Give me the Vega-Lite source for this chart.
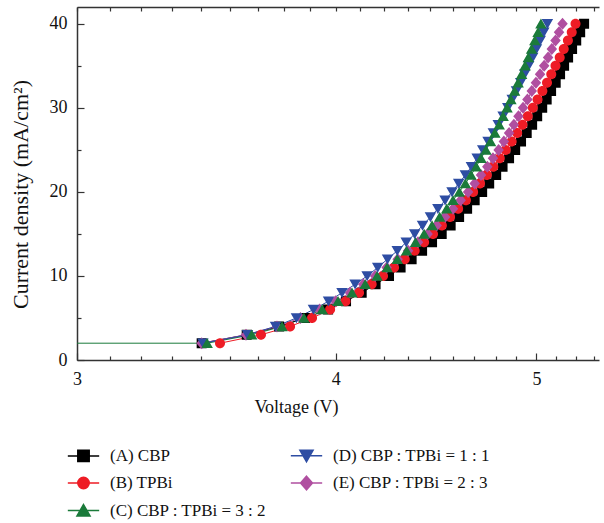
{
  "$schema": "https://vega.github.io/schema/vega-lite/v6.json",
  "width": 522,
  "height": 353,
  "autosize": {"type": "none"},
  "padding": {"left": 77, "top": 7, "right": 5, "bottom": 163},
  "background": "white",
  "config": {
    "view": {"stroke": null},
    "font": "Liberation Serif",
    "legend": {
      "labelFont": "Liberation Serif",
      "labelFontSize": 17,
      "labelColor": "#111111",
      "symbolStrokeWidth": 1.5
    }
  },
  "data": {
    "values": [
      {"J": 2, "C": 2.9},
      {"J": 2, "A": 3.446, "B": 3.517, "C": 3.467, "D": 3.451, "E": 3.446},
      {"J": 3, "A": 3.623, "B": 3.681, "C": 3.643, "D": 3.626, "E": 3.620},
      {"J": 4, "A": 3.756, "B": 3.802, "C": 3.768, "D": 3.741, "E": 3.747},
      {"J": 5, "A": 3.866, "B": 3.896, "C": 3.861, "D": 3.829, "E": 3.846},
      {"J": 6, "A": 3.966, "B": 3.975, "C": 3.940, "D": 3.902, "E": 3.929},
      {"J": 7, "A": 4.046, "B": 4.044, "C": 4.010, "D": 3.968, "E": 3.999},
      {"J": 8, "A": 4.117, "B": 4.105, "C": 4.073, "D": 4.028, "E": 4.064},
      {"J": 9, "A": 4.181, "B": 4.163, "C": 4.133, "D": 4.087, "E": 4.124},
      {"J": 10, "A": 4.244, "B": 4.216, "C": 4.188, "D": 4.142, "E": 4.179},
      {"J": 11, "A": 4.299, "B": 4.268, "C": 4.235, "D": 4.191, "E": 4.233},
      {"J": 12, "A": 4.352, "B": 4.319, "C": 4.283, "D": 4.237, "E": 4.285},
      {"J": 13, "A": 4.403, "B": 4.367, "C": 4.328, "D": 4.283, "E": 4.335},
      {"J": 14, "A": 4.452, "B": 4.413, "C": 4.371, "D": 4.326, "E": 4.383},
      {"J": 15, "A": 4.500, "B": 4.457, "C": 4.413, "D": 4.367, "E": 4.430},
      {"J": 16, "A": 4.545, "B": 4.501, "C": 4.452, "D": 4.405, "E": 4.475},
      {"J": 17, "A": 4.588, "B": 4.542, "C": 4.490, "D": 4.444, "E": 4.517},
      {"J": 18, "A": 4.629, "B": 4.583, "C": 4.525, "D": 4.481, "E": 4.557},
      {"J": 19, "A": 4.668, "B": 4.623, "C": 4.557, "D": 4.517, "E": 4.596},
      {"J": 20, "A": 4.707, "B": 4.660, "C": 4.589, "D": 4.552, "E": 4.634},
      {"J": 21, "A": 4.744, "B": 4.696, "C": 4.620, "D": 4.586, "E": 4.668},
      {"J": 22, "A": 4.781, "B": 4.732, "C": 4.649, "D": 4.620, "E": 4.701},
      {"J": 23, "A": 4.815, "B": 4.766, "C": 4.676, "D": 4.651, "E": 4.734},
      {"J": 24, "A": 4.850, "B": 4.800, "C": 4.701, "D": 4.681, "E": 4.764},
      {"J": 25, "A": 4.883, "B": 4.832, "C": 4.727, "D": 4.710, "E": 4.794},
      {"J": 26, "A": 4.915, "B": 4.864, "C": 4.751, "D": 4.738, "E": 4.822},
      {"J": 27, "A": 4.946, "B": 4.894, "C": 4.774, "D": 4.766, "E": 4.850},
      {"J": 28, "A": 4.976, "B": 4.923, "C": 4.797, "D": 4.792, "E": 4.876},
      {"J": 29, "A": 5.004, "B": 4.952, "C": 4.818, "D": 4.818, "E": 4.901},
      {"J": 30, "A": 5.032, "B": 4.980, "C": 4.839, "D": 4.843, "E": 4.926},
      {"J": 31, "A": 5.057, "B": 5.006, "C": 4.860, "D": 4.867, "E": 4.950},
      {"J": 32, "A": 5.082, "B": 5.033, "C": 4.880, "D": 4.890, "E": 4.974},
      {"J": 33, "A": 5.108, "B": 5.059, "C": 4.899, "D": 4.913, "E": 4.997},
      {"J": 34, "A": 5.133, "B": 5.083, "C": 4.918, "D": 4.935, "E": 5.020},
      {"J": 35, "A": 5.156, "B": 5.107, "C": 4.937, "D": 4.957, "E": 5.043},
      {"J": 36, "A": 5.179, "B": 5.131, "C": 4.955, "D": 4.979, "E": 5.065},
      {"J": 37, "A": 5.202, "B": 5.154, "C": 4.973, "D": 5.000, "E": 5.086},
      {"J": 38, "A": 5.226, "B": 5.178, "C": 4.991, "D": 5.021, "E": 5.107},
      {"J": 39, "A": 5.249, "B": 5.200, "C": 5.009, "D": 5.041, "E": 5.127},
      {"J": 40, "A": 5.272, "B": 5.222, "C": 5.025, "D": 5.061, "E": 5.147}
    ]
  },
  "transform": [
    {"fold": ["A", "B", "E", "D", "C"], "as": ["series", "V"]},
    {"filter": {"field": "V", "valid": true}}
  ],
  "layer": [
    {
      "mark": {"type": "line", "strokeWidth": 1, "clip": true},
      "encoding": {
        "x": {
          "field": "V", "type": "quantitative",
          "scale": {"type": "log", "domain": [3, 5.36], "nice": false},
          "axis": {
            "orient": "bottom",
            "grid": false,
            "domainColor": "#333333",
            "domainWidth": 1.5,
            "tickColor": "#333333",
            "tickWidth": 1.2,
            "values": [3, 3.111, 3.222, 3.333, 3.444, 3.556, 3.667, 3.778, 3.889, 4, 4.111, 4.222, 4.333, 4.444, 4.556, 4.667, 4.778, 4.889, 5, 5.111, 5.222, 5.333],
            "labelExpr": "datum.value == 3 ? '3' : datum.value == 4 ? '4' : datum.value == 5 ? '5' : ''",
            "tickSize": {"condition": {"test": "datum.value == 3 || datum.value == 4 || datum.value == 5", "value": -7}, "value": -4},
            "labelFont": "Liberation Serif",
            "labelFontSize": 18,
            "labelColor": "#111111",
            "labelBaseline": "alphabetic",
            "labelPadding": 31,
            "labelFlush": false,
            "labelOverlap": false,
            "title": "Voltage (V)",
            "titleFont": "Liberation Serif",
            "titleFontSize": 18,
            "titleFontWeight": "normal",
            "titleColor": "#111111",
            "titleX": 219,
            "titleY": 52,
            "titleAlign": "center",
            "titleBaseline": "alphabetic",
            "titleAnchor": "start"
          }
        },
        "y": {
          "field": "J", "type": "quantitative",
          "scale": {"domain": [0, 42], "nice": false},
          "axis": {
            "grid": false,
            "domainColor": "#333333",
            "domainWidth": 1.5,
            "tickColor": "#333333",
            "tickWidth": 1.2,
            "values": [0, 5, 10, 15, 20, 25, 30, 35, 40],
            "labelExpr": "datum.value % 10 == 0 ? datum.label : ''",
            "tickSize": {"condition": {"test": "datum.value % 10 == 0", "value": -7}, "value": -4},
            "labelFont": "Liberation Serif",
            "labelFontSize": 18,
            "labelColor": "#111111",
            "labelPadding": 17,
            "labelFlush": false,
            "title": "Current density (mA/cm²)",
            "titleFont": "Liberation Serif",
            "titleFontSize": 22,
            "titleFontWeight": "normal",
            "titleColor": "#111111",
            "titleAngle": -90,
            "titleX": -50,
            "titleY": 187,
            "titleAlign": "center",
            "titleBaseline": "alphabetic",
            "titleAnchor": "start"
          }
        },
        "color": {
          "field": "series", "type": "nominal",
          "scale": {"domain": ["A", "B", "C", "D", "E"], "range": ["#000000", "#EE1C25", "#1A7A3A", "#2E4DA3", "#B04FA0"]},
          "legend": null
        }
      }
    },
    {
      "mark": {"type": "point", "filled": true, "opacity": 1, "size": 100, "clip": true},
      "encoding": {
        "x": {
          "field": "V", "type": "quantitative",
          "scale": {"type": "log", "domain": [3, 5.36], "nice": false},
          "axis": {
            "orient": "top",
            "grid": false,
            "domainColor": "#333333",
            "domainWidth": 1.5,
            "tickColor": "#333333",
            "tickWidth": 1.2,
            "values": [3, 3.111, 3.222, 3.333, 3.444, 3.556, 3.667, 3.778, 3.889, 4, 4.111, 4.222, 4.333, 4.444, 4.556, 4.667, 4.778, 4.889, 5, 5.111, 5.222, 5.333],
            "labels": false,
            "tickSize": -4,
            "title": null
          }
        },
        "y": {
          "field": "J", "type": "quantitative",
          "scale": {"domain": [0, 42], "nice": false},
          "axis": null
        },
        "strokeWidth": {"value": 0},
        "color": {
          "field": "series", "type": "nominal",
          "scale": {"domain": ["A", "B", "C", "D", "E"], "range": ["#000000", "#EE1C25", "#1A7A3A", "#2E4DA3", "#B04FA0"]},
          "legend": {
            "title": null,
            "orient": "none",
            "legendX": -2,
            "legendY": 440,
            "columns": 2,
            "padding": 0,
            "rowPadding": 7.5,
            "columnPadding": 20,
            "labelOffset": 18,
            "symbolSize": 130,
            "labelLimit": 400,
            "labelExpr": "datum.value == 'A' ? '(A) CBP' : datum.value == 'B' ? '(B) TPBi' : datum.value == 'C' ? '(C) CBP : TPBi = 3 : 2' : datum.value == 'D' ? '(D) CBP : TPBi = 1 : 1' : '(E) CBP : TPBi = 2 : 3'"
          }
        },
        "stroke": {
          "field": "series", "type": "nominal",
          "scale": {"domain": ["A", "B", "C", "D", "E"], "range": ["#000000", "#EE1C25", "#1A7A3A", "#2E4DA3", "#B04FA0"]},
          "legend": {
            "title": null,
            "orient": "none",
            "legendX": -2,
            "legendY": 440,
            "columns": 2,
            "padding": 0,
            "rowPadding": 7.5,
            "columnPadding": 20,
            "labelOffset": 18,
            "symbolSize": 130,
            "labelLimit": 400,
            "labelExpr": "datum.value == 'A' ? '(A) CBP' : datum.value == 'B' ? '(B) TPBi' : datum.value == 'C' ? '(C) CBP : TPBi = 3 : 2' : datum.value == 'D' ? '(D) CBP : TPBi = 1 : 1' : '(E) CBP : TPBi = 2 : 3'"
          }
        },
        "shape": {
          "field": "series", "type": "nominal",
          "scale": {
            "domain": ["A", "B", "C", "D", "E"],
            "range": [
              "M-2.75,0H2.75M-1,-1H1V1H-1Z",
              "M-2.75,0H2.75M-1,0A1,1,0,1,0,1,0A1,1,0,1,0,-1,0Z",
              "M-2.75,0H2.75M0,-1.05L1.15,0.95H-1.15Z",
              "M-2.75,0H2.75M-1.15,-0.95H1.15L0,1.05Z",
              "M-2.75,0H2.75M0,-1.2L1.05,0L0,1.2L-1.05,0Z"
            ]
          },
          "legend": {
            "title": null,
            "orient": "none",
            "legendX": -2,
            "legendY": 440,
            "columns": 2,
            "padding": 0,
            "rowPadding": 7.5,
            "columnPadding": 20,
            "labelOffset": 18,
            "symbolSize": 130,
            "labelLimit": 400,
            "labelExpr": "datum.value == 'A' ? '(A) CBP' : datum.value == 'B' ? '(B) TPBi' : datum.value == 'C' ? '(C) CBP : TPBi = 3 : 2' : datum.value == 'D' ? '(D) CBP : TPBi = 1 : 1' : '(E) CBP : TPBi = 2 : 3'"
          }
        }
      }
    }
  ],
  "resolve": {
    "axis": {"x": "independent", "y": "independent"},
    "legend": {"color": "independent", "stroke": "independent", "shape": "independent"}
  }
}
